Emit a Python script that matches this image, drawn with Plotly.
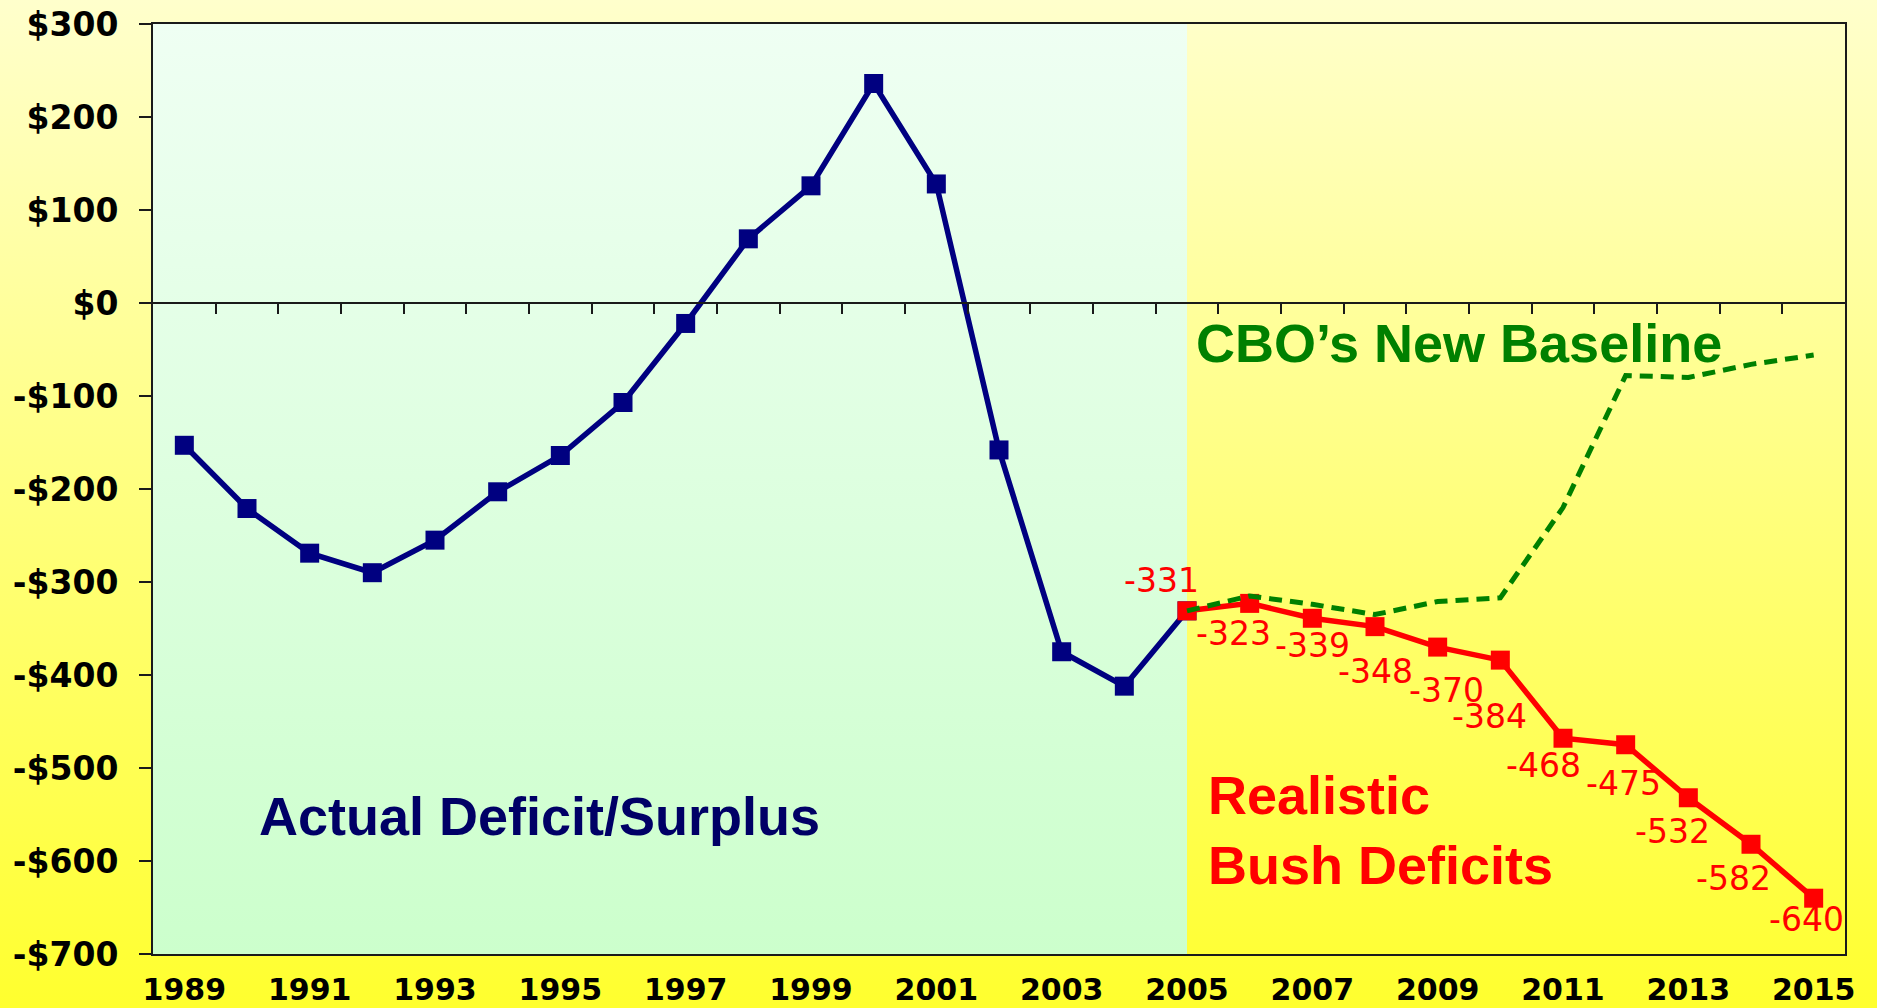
import base64
import plotly.graph_objects as go

# data (billions of dollars)
actual_years = list(range(1989, 2006))
actual = [-153, -221, -269, -290, -255, -203, -164, -107, -22, 69, 126, 236, 128, -158, -375, -412, -331]

bush_years = list(range(2005, 2016))
bush = [-331, -323, -339, -348, -370, -384, -468, -475, -532, -582, -640]

cbo_years = list(range(2005, 2016))
cbo = [-331, -315, -324, -335, -321, -317, -220, -78, -80, -66, -56]

all_years = list(range(1989, 2016))
y_ticks = [300, 200, 100, 0, -100, -200, -300, -400, -500, -600, -700]
y_tick_text = ['$300', '$200', '$100', '$0', '-$100', '-$200', '-$300', '-$400', '-$500', '-$600', '-$700']

# hand placed offsets of the red value labels (px)
label_dx = [-26, -16, 0, 0, 9, -11, -20, -2, -16, -18, -7]
label_dy = [28, -32, -29, -47, -45, -58, -29, -41, -36, -36, -23]

W, H = 1877, 1008
L, R, T, B = 153, 32, 24, 54


def gradient_svg(top, bottom):
    svg = ('<svg xmlns="http://www.w3.org/2000/svg" width="100" height="100" preserveAspectRatio="none">'
           '<defs><linearGradient id="g" x1="0" y1="0" x2="0" y2="1">'
           f'<stop offset="0" stop-color="{top}"/><stop offset="1" stop-color="{bottom}"/>'
           '</linearGradient></defs><rect width="100" height="100" fill="url(#g)"/></svg>')
    return 'data:image/svg+xml;base64,' + base64.b64encode(svg.encode()).decode()


x_lo, x_hi = all_years[0] - 0.5, all_years[-1] + 0.5
y_lo, y_hi = y_ticks[-1], y_ticks[0]

fig = go.Figure()

fig.add_trace(go.Scatter(
    x=actual_years, y=actual, mode='lines+markers',
    line=dict(color='#000080', width=5.5),
    marker=dict(symbol='square', size=19, color='#000080'),
    showlegend=False, hoverinfo='skip'))

fig.add_trace(go.Scatter(
    x=bush_years, y=bush, mode='lines+markers',
    line=dict(color='#FF0000', width=5.5),
    marker=dict(symbol='square', size=19, color='#FF0000'),
    showlegend=False, hoverinfo='skip'))

fig.add_trace(go.Scatter(
    x=cbo_years, y=cbo, mode='lines',
    line=dict(color='#008000', width=5, dash='13px,8px'),
    showlegend=False, hoverinfo='skip'))

# invisible trace so the zero-line axis gets drawn
fig.add_trace(go.Scatter(
    x=[all_years[0]], y=[0], xaxis='x2', mode='markers',
    marker=dict(opacity=0), showlegend=False, hoverinfo='skip'))

for yr, v, dx, dy in zip(bush_years, bush, label_dx, label_dy):
    fig.add_annotation(x=yr, y=v, xref='x', yref='y', text=str(v), showarrow=False,
                       xshift=dx, yshift=dy + 2,
                       font=dict(family='DejaVu Sans', size=33, color='#FF0000'))

big = dict(family='Liberation Sans, Arial', size=54)
fig.add_annotation(x=2005.11, y=-43, xref='x', yref='y', text='<b>CBO’s New Baseline</b>',
                   showarrow=False, xanchor='left', yanchor='middle',
                   font=dict(big, color='#008000'))
fig.add_annotation(x=1990.16, y=-552, xref='x', yref='y', text='<b>Actual Deficit/Surplus</b>',
                   showarrow=False, xanchor='left', yanchor='middle',
                   font=dict(big, color='#000066'))
fig.add_annotation(x=2005.31, y=-567, xref='x', yref='y', text='<b>Realistic<br>Bush Deficits</b>',
                   showarrow=False, xanchor='left', yanchor='middle', align='left',
                   font=dict(big, color='#FF0000'))

pw, ph = W - L - R, H - T - B
fig.update_layout(
    width=W, height=H,
    margin=dict(l=L, r=R, t=T, b=B),
    paper_bgcolor='#FFFF80',
    plot_bgcolor='rgba(0,0,0,0)',
    images=[
        dict(source=gradient_svg('#FFFFCC', '#FFFF2E'), xref='paper', yref='paper',
             x=-L / pw, y=1 + T / ph, sizex=W / pw, sizey=H / ph,
             xanchor='left', yanchor='top', sizing='stretch', layer='below'),
        dict(source=gradient_svg('#EFFFF3', '#CCFFCC'), xref='x', yref='y',
             x=x_lo, y=y_hi, sizex=2005 - x_lo, sizey=y_hi - y_lo,
             xanchor='left', yanchor='top', sizing='stretch', layer='below'),
    ],
    xaxis=dict(
        range=[x_lo, x_hi], tickvals=all_years[::2], ticks='', automargin=False,
        showline=True, linecolor='#1a1a1a', linewidth=2, mirror=True,
        showgrid=False, zeroline=False, ticklabelstandoff=8,
        tickfont=dict(family='DejaVu Sans', size=30, color='black', weight='bold')),
    xaxis2=dict(
        range=[x_lo, x_hi], overlaying='x', anchor='free', position=(0 - y_lo) / (y_hi - y_lo),
        side='bottom', showline=True, linecolor='#1a1a1a', linewidth=2, automargin=False,
        ticks='outside', ticklen=10, tickwidth=2, tickcolor='#1a1a1a',
        tickvals=[yr + 0.5 for yr in all_years[:-1]], showticklabels=False,
        showgrid=False, zeroline=False),
    yaxis=dict(
        range=[y_lo, y_hi], tickvals=y_ticks, ticktext=y_tick_text, automargin=False,
        ticks='outside', ticklen=12, tickwidth=2, tickcolor='#1a1a1a',
        showline=True, linecolor='#1a1a1a', linewidth=2, mirror=True,
        showgrid=False, zeroline=False, ticklabelstandoff=14,
        tickfont=dict(family='DejaVu Sans', size=33, color='black', weight='bold')),
)

fig.write_html('out.html', config={'displayModeBar': False},
               post_script="document.body.style.margin='0';")
